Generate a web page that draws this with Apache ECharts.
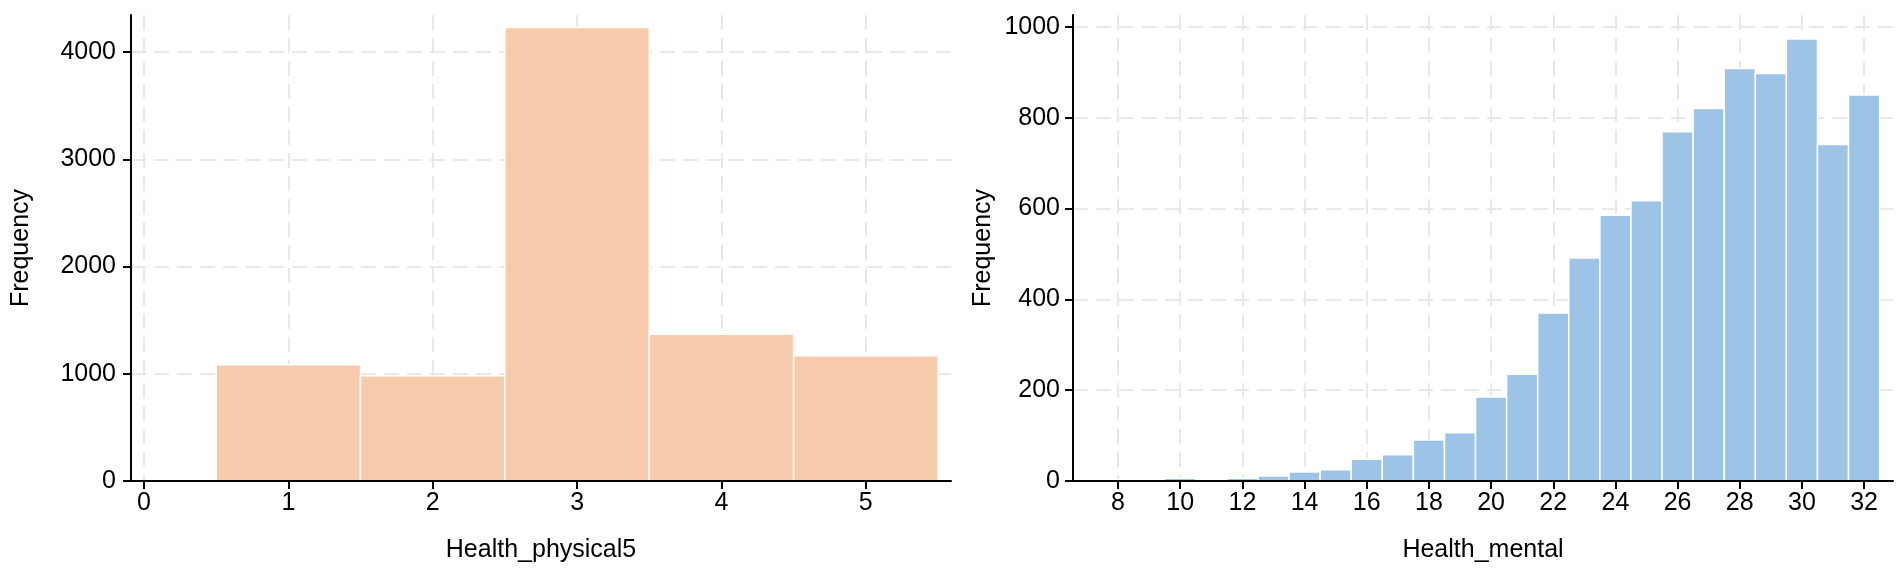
<!DOCTYPE html>
<html>
<head>
<meta charset="utf-8">
<title>Health histograms</title>
<script src="https://cdn.jsdelivr.net/npm/echarts@6.0.0/dist/echarts.min.js"></script>
<style>
  html, body { margin: 0; padding: 0; background: #fff; }
  #chart { width: 1902px; height: 575px; }
</style>
</head>
<body>
<div id="chart"></div>
<script>
// 左图 Health_physical5
const physBins = [1, 2, 3, 4, 5];
const physFreq = [1084, 981, 4229, 1368, 1169];
const physXTicks = [0, 1, 2, 3, 4, 5];
const physYTicks = [0, 1000, 2000, 3000, 4000];

// 右图 Health_mental
const mentalBins = [8, 9, 10, 11, 12, 13, 14, 15, 16, 17, 18, 19, 20, 21, 22, 23, 24, 25, 26, 27, 28, 29, 30, 31, 32];
const mentalFreq = [3, 2, 6, 3, 6, 11, 20, 25, 48, 58, 90, 106, 185, 235, 370, 491, 585, 617, 769, 820, 908, 897, 973, 741, 850];
const mentalXTicks = [8, 10, 12, 14, 16, 18, 20, 22, 24, 26, 28, 30, 32];
const mentalYTicks = [0, 200, 400, 600, 800, 1000];

const FONT = "'Liberation Sans', Arial, sans-serif";
const gridLine = { color: '#e2e2e2', width: 1.5, type: [15, 8] };
const axisBlack = { color: '#000', width: 2 };
const plain = v => String(v); // no thousands separator

// one panel = frame grid (axis lines + bars) + grid for x ticks + grid for y ticks
function panel(p, cfg) {
  const f = cfg.frame;
  const xr = cfg.xRange, yr = cfg.yRange;
  const xt = cfg.xTicks, yt = cfg.yTicks;
  const xSpan = xr[1] - xr[0], ySpan = yr[1] - yr[0];
  const g0 = p * 3, g1 = g0 + 1, g2 = g0 + 2;

  const grids = [
    { left: f.left, top: f.top, width: f.width, height: f.height },
    { left: f.left + (xt[0] - xr[0]) / xSpan * f.width,
      width: (xt[xt.length - 1] - xt[0]) / xSpan * f.width,
      top: f.top, height: f.height },
    { left: f.left, width: f.width,
      top: f.top + (yr[1] - yt[yt.length - 1]) / ySpan * f.height,
      height: (yt[yt.length - 1] - yt[0]) / ySpan * f.height }
  ].map(g => Object.assign(g, { containLabel: false, outerBoundsMode: 'none' }));

  const xAxes = [
    {
      gridIndex: g0, type: 'value', min: xr[0], max: xr[1], z: 5,
      axisLine: { show: true, onZero: false, lineStyle: axisBlack },
      axisTick: { show: false }, axisLabel: { show: false }, splitLine: { show: false },
      name: cfg.xName, nameLocation: 'middle', nameGap: cfg.xNameGap,
      nameTextStyle: { fontSize: 25, color: '#000', fontFamily: FONT }
    },
    {
      gridIndex: g1, type: 'value', min: xt[0], max: xt[xt.length - 1], interval: xt[1] - xt[0],
      axisLine: { show: false, onZero: false },
      axisTick: { show: true, length: 8, lineStyle: axisBlack },
      axisLabel: { fontSize: 25, color: '#000', fontFamily: FONT, margin: 10, formatter: plain },
      splitLine: { show: true, lineStyle: gridLine }
    },
    { gridIndex: g2, type: 'value', min: 0, max: 1, show: false }
  ];

  const yAxes = [
    {
      gridIndex: g0, type: 'value', min: yr[0], max: yr[1], z: 5,
      axisLine: { show: true, onZero: false, lineStyle: axisBlack },
      axisTick: { show: false }, axisLabel: { show: false }, splitLine: { show: false },
      name: 'Frequency', nameLocation: 'middle', nameGap: cfg.yNameGap,
      nameTextStyle: { fontSize: 25, color: '#000', fontFamily: FONT }
    },
    { gridIndex: g1, type: 'value', min: 0, max: 1, show: false },
    {
      gridIndex: g2, type: 'value', min: yt[0], max: yt[yt.length - 1], interval: yt[1] - yt[0],
      axisLine: { show: false, onZero: false },
      axisTick: { show: true, length: 8, lineStyle: axisBlack },
      axisLabel: { fontSize: 25, color: '#000', fontFamily: FONT, margin: cfg.yLabelMargin, formatter: plain },
      splitLine: { show: true, lineStyle: gridLine }
    }
  ];

  const series = {
    type: 'custom',
    xAxisIndex: g0, yAxisIndex: g0,
    z: 2,
    data: cfg.bins.map((b, i) => [b, cfg.freq[i]]),
    renderItem: function (params, api) {
      const x = api.value(0), y = api.value(1);
      const a = api.coord([x - cfg.binWidth / 2, 0]);
      const b = api.coord([x + cfg.binWidth / 2, y]);
      return {
        type: 'rect',
        shape: { x: a[0], y: b[1], width: b[0] - a[0], height: a[1] - b[1] },
        style: { fill: cfg.color, stroke: '#fff', lineWidth: 1.5 }
      };
    }
  };

  return { grids, xAxes, yAxes, series };
}

const left = panel(0, {
  frame: { left: 131, top: 15, width: 820, height: 466 },
  xRange: [-0.09, 5.59], yRange: [0, 4345],
  xTicks: physXTicks, yTicks: physYTicks,
  bins: physBins, freq: physFreq, binWidth: 1,
  color: '#F7CAAC', xName: 'Health_physical5',
  xNameGap: 57, yNameGap: 97, yLabelMargin: 15
});

const right = panel(1, {
  frame: { left: 1073, top: 15, width: 820, height: 466 },
  xRange: [6.55, 32.93], yRange: [0, 1026],
  xTicks: mentalXTicks, yTicks: mentalYTicks,
  bins: mentalBins, freq: mentalFreq, binWidth: 1,
  color: '#9DC3E6', xName: 'Health_mental',
  xNameGap: 57, yNameGap: 77, yLabelMargin: 13
});

const chart = echarts.init(document.getElementById('chart'), null, { renderer: 'canvas' });
chart.setOption({
  backgroundColor: '#fff',
  animation: false,
  textStyle: { fontFamily: FONT },
  grid: left.grids.concat(right.grids),
  xAxis: left.xAxes.concat(right.xAxes),
  yAxis: left.yAxes.concat(right.yAxes),
  series: [left.series, right.series]
});
</script>
</body>
</html>
